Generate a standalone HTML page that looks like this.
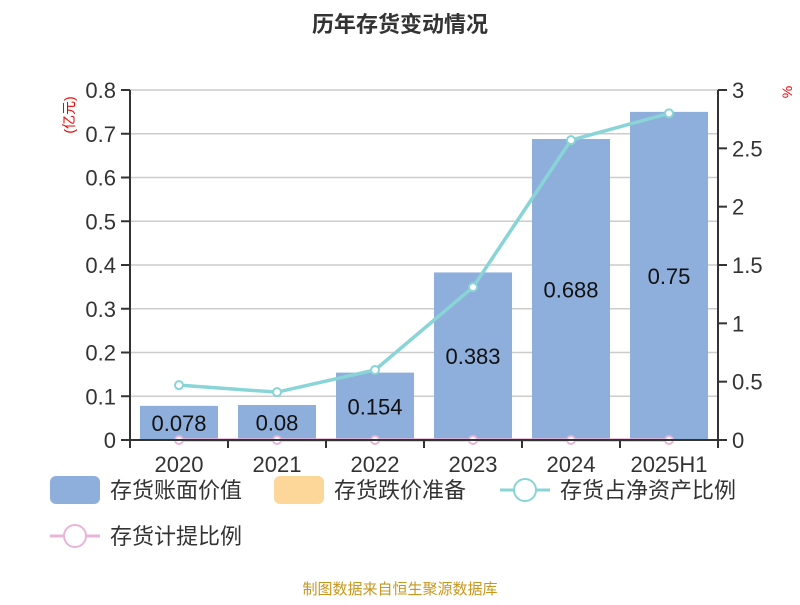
<!DOCTYPE html>
<html><head><meta charset="utf-8"><style>
body{margin:0;background:#fff;font-family:"Liberation Sans","Noto Sans CJK SC",sans-serif}
svg text{font-family:"Liberation Sans","Noto Sans CJK SC",sans-serif}
</style></head><body>
<svg id="c" width="800" height="600" xmlns="http://www.w3.org/2000/svg">
<text x="400" y="32" text-anchor="middle" font-size="22" font-weight="bold" fill="#333">历年存货变动情况</text>
<text transform="translate(74,115) rotate(-90)" text-anchor="middle" font-size="14" fill="#e00">(亿元)</text>
<text transform="translate(792,92) rotate(-90)" text-anchor="middle" font-size="14" fill="#e00">%</text>
<g id="grid"></g><g id="bars"></g><g id="lines"></g><g id="axes"></g>
<g>
<rect x="50" y="476" width="50" height="28" rx="6" fill="#8eaedb"/>
<text x="110" y="498" font-size="22" fill="#333">存货账面价值</text>
<rect x="274" y="476" width="50" height="28" rx="6" fill="#fdd79a"/>
<text x="334" y="498" font-size="22" fill="#333">存货跌价准备</text>
<line x1="500" y1="490" x2="550" y2="490" stroke="#88d4d6" stroke-width="3"/>
<circle cx="525" cy="490" r="11" fill="#fff" stroke="#88d4d6" stroke-width="2"/>
<text x="560" y="498" font-size="22" fill="#333">存货占净资产比例</text>
<line x1="50" y1="536" x2="100" y2="536" stroke="#e8b4d8" stroke-width="3"/>
<circle cx="75" cy="536" r="11" fill="#fff" stroke="#e8b4d8" stroke-width="2"/>
<text x="110" y="544" font-size="22" fill="#333">存货计提比例</text>
</g>
<text x="400" y="594" text-anchor="middle" font-size="15" fill="#c8961e">制图数据来自恒生聚源数据库</text>
</svg>
<script>
const categories=["2020","2021","2022","2023","2024","2025H1"];
const bookValues=[0.078,0.08,0.154,0.383,0.688,0.75];
const netAssetRatio=[0.47,0.41,0.6,1.31,2.57,2.8];
const provisionRatio=[0,0,0,0,0,0];
const leftTicks=[0,0.1,0.2,0.3,0.4,0.5,0.6,0.7,0.8];
const rightTicks=[0,0.5,1,1.5,2,2.5,3];
const L=130,R=718,T=90,B=440,ns="http://www.w3.org/2000/svg";
const yL=v=>B-(v/0.8)*(B-T), yR=v=>B-(v/3)*(B-T);
const bw=(R-L)/categories.length, xC=i=>L+bw*(i+0.5);
function mk(p,tag,a){const e=document.createElementNS(ns,tag);for(const k in a)e.setAttribute(k,a[k]);document.getElementById(p).appendChild(e);return e;}
leftTicks.forEach(t=>{
 if(t>0){const g=mk("grid","line",{x1:L,x2:R,y1:yL(t),y2:yL(t),stroke:"#ccc","stroke-width":1.5});
 
 }
 mk("axes","line",{x1:L-9,x2:L,y1:yL(t),y2:yL(t),stroke:"#333","stroke-width":2});
 const tx=mk("axes","text",{x:L-14,y:yL(t)+8,"text-anchor":"end","font-size":22,fill:"#333"});tx.textContent=t;
 
 
});
rightTicks.forEach(t=>{
 mk("axes","line",{x1:R,x2:R+9,y1:yR(t),y2:yR(t),stroke:"#333","stroke-width":2});
 const tx=mk("axes","text",{x:R+14,y:yR(t)+8,"font-size":22,fill:"#333"});tx.textContent=t;
 
 
});
mk("axes","line",{x1:L,x2:L,y1:T,y2:B,stroke:"#333","stroke-width":2});
mk("axes","line",{x1:R,x2:R,y1:T,y2:B,stroke:"#333","stroke-width":2});
mk("axes","line",{x1:L,x2:R,y1:B,y2:B,stroke:"#333","stroke-width":2});
categories.forEach((c,i)=>{
 mk("axes","line",{x1:L+bw*i,x2:L+bw*i,y1:B,y2:B+8,stroke:"#333","stroke-width":2});
 const tx=mk("axes","text",{x:xC(i),y:B+32,"text-anchor":"middle","font-size":22,fill:"#333"});tx.textContent=c;
 
 
 const b=mk("bars","rect",{x:xC(i)-39,width:78,y:yL(bookValues[i]),height:B-yL(bookValues[i]),fill:"#8eaedb"});
 
 
 const lb=mk("bars","text",{x:xC(i),y:(yL(bookValues[i])+B)/2+8,"text-anchor":"middle","font-size":22,fill:"#111"});lb.textContent=bookValues[i];
 
 
});
mk("axes","line",{x1:R,x2:R,y1:B,y2:B+8,stroke:"#333","stroke-width":2});
function series(vals,color,name){
 const pts=vals.map((v,i)=>xC(i)+","+yR(v)).join(" ");
 const pl=mk("lines","polyline",{points:pts,fill:"none",stroke:color,"stroke-width":3.5});
 
 
 vals.forEach((v,i)=>{const c=mk("lines","circle",{cx:xC(i),cy:yR(v),r:4,fill:"#fff",stroke:color,"stroke-width":2});
 
 });
}
series(provisionRatio,"#e8b4d8","provision-ratio");
series(netAssetRatio,"#88d4d6","net-asset-ratio");
</script>
</body></html>
